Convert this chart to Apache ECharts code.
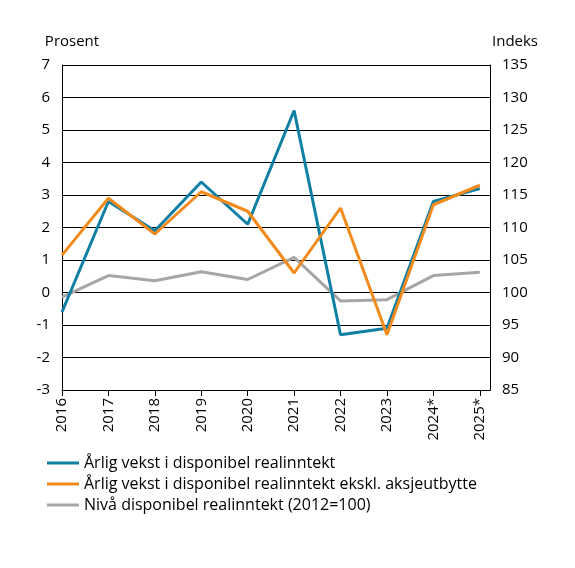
<!DOCTYPE html><html><head><meta charset="utf-8"><script src="https://cdn.jsdelivr.net/npm/echarts@6/dist/echarts.min.js"></script></head><body style="margin:0"><div id="c" style="width:575px;height:568px"></div><script>
const categories=['2016','2017','2018','2019','2020','2021','2022','2023','2024*','2025*'];
const vekst=[-0.6,2.8,1.9,3.4,2.1,5.6,-1.3,-1.1,2.8,3.2];
const vekstEkskl=[1.15,2.9,1.8,3.1,2.5,0.6,2.6,-1.3,2.7,3.3];
const niva=[99.3,102.6,101.8,103.2,102.0,105.4,98.7,98.9,102.6,103.1];
const names=['Årlig vekst i disponibel realinntekt','Årlig vekst i disponibel realinntekt ekskl. aksjeutbytte','Nivå disponibel realinntekt (2012=100)'];
const toXY=a=>a.map((v,i)=>[i,v]);
const f='"Open Sans", sans-serif';
const c=echarts.init(document.getElementById('c'));
c.setOption({animation:false,textStyle:{fontFamily:f},
grid:{left:62,right:85,top:65,bottom:178},
legend:{orient:'vertical',left:42,top:450,itemWidth:32,itemHeight:3,itemGap:5,icon:'rect',textStyle:{fontSize:16,color:'#000',fontFamily:f},data:names},
xAxis:{type:'value',min:0,max:9.22,interval:1,axisLine:{show:true,onZero:false,lineStyle:{color:'#000'}},axisTick:{show:true,length:6,lineStyle:{color:'#000'}},splitLine:{show:false},
axisLabel:{rotate:90,fontSize:15,color:'#000',showMaxLabel:false,formatter:v=>categories[v]??''}},
yAxis:[{type:'value',min:-3,max:7,interval:1,name:'Prosent',nameGap:16,nameTextStyle:{fontSize:15,color:'#000',align:'center',padding:[0,0,0,20]},axisLine:{show:true,lineStyle:{color:'#000'}},axisTick:{show:false},axisLabel:{fontSize:15,color:'#000',margin:12},splitLine:{lineStyle:{color:'#000',width:1}}},
{type:'value',min:85,max:135,interval:5,name:'Indeks',nameGap:16,nameTextStyle:{fontSize:15,color:'#000',align:'center',padding:[0,0,0,50]},axisLine:{show:true,lineStyle:{color:'#000'}},axisTick:{show:false},axisLabel:{fontSize:15,color:'#000',margin:12},splitLine:{show:false}}],
series:[
{name:names[2],type:'line',yAxisIndex:1,data:toXY(niva),symbol:'none',lineStyle:{color:'#a6a6a6',width:3},itemStyle:{color:'#a6a6a6'}},
{name:names[0],type:'line',data:toXY(vekst),symbol:'none',lineStyle:{color:'#0f7fa3',width:3},itemStyle:{color:'#0f7fa3'}},
{name:names[1],type:'line',data:toXY(vekstEkskl),symbol:'none',lineStyle:{color:'#f28a1c',width:3},itemStyle:{color:'#f28a1c'}}
]});
</script></body></html>
